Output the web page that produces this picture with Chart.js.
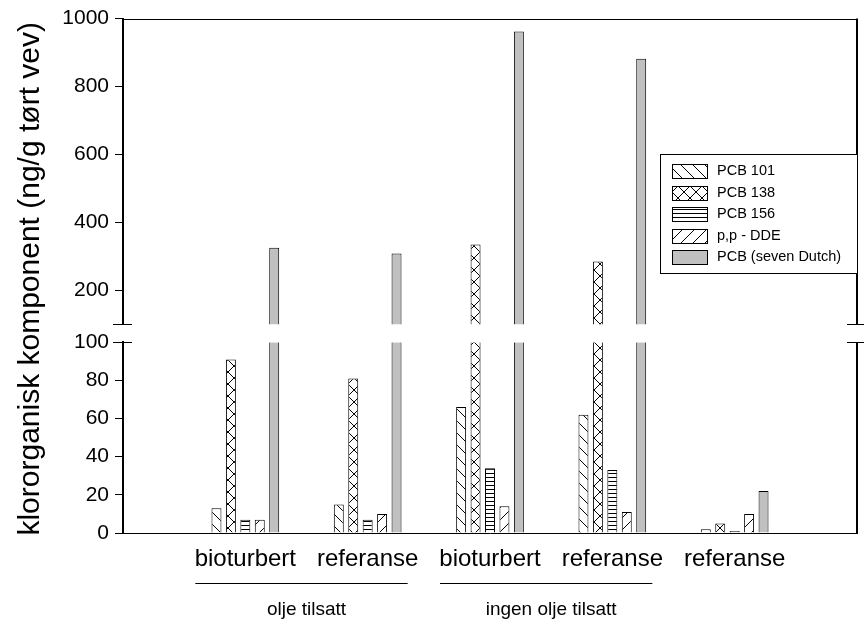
<!DOCTYPE html>
<html>
<head>
<meta charset="utf-8">
<script src="https://cdn.jsdelivr.net/npm/chart.js@4.4.1/dist/chart.umd.min.js"></script>
<style>
  html, body { margin: 0; padding: 0; background: #fff; }
  #wrap { width: 864px; height: 620px; }
</style>
</head>
<body>
<div id="wrap"><canvas id="chart" width="864" height="620"></canvas></div>
<script>
// Data (ng/g dry weight)
const categories = ['', 'bioturbert', 'referanse', 'bioturbert', 'referanse', 'referanse', ''];
const seriesNames = ['PCB 101', 'PCB 138', 'PCB 156', 'p,p - DDE', 'PCB (seven Dutch)'];
const pcb101 = [null, 13, 15, 66, 62, 2, null];
const pcb138 = [null, 91, 81, 335, 285, 5, null];
const pcb156 = [null, 7, 7, 34, 33, 1, null];
const ppDDE = [null, 7, 10, 14, 11, 10, null];
const pcbSevenDutch = [null, 325, 308, 962, 882, 22, null];
const upperTicks = [200, 400, 600, 800, 1000];
const groupLabels = ['olje tilsatt', 'ingen olje tilsatt'];
const groupFirst = [1, 3];
const groupLast = [2, 4];

const LOWER_MAX = 100;   // broken axis: 0-100 below, 100-1000 above
const UPPER_MAX = 1000;
const AXIS_GAP = 18;

const canvas = document.getElementById('chart');
const mainCtx = canvas.getContext('2d');

// Hatch fills like the original figure
function makeHatch(kind) {
  const s = kind === 'horiz' ? 4 : 12;
  const c = document.createElement('canvas');
  c.width = s; c.height = s;
  const g = c.getContext('2d');
  g.fillStyle = '#fff';
  g.fillRect(0, 0, s, s);
  g.strokeStyle = '#000';
  g.lineWidth = 1;
  g.beginPath();
  if (kind === 'back' || kind === 'cross') {
    for (let k = -1; k <= 1; k++) { g.moveTo(k * s, 0); g.lineTo(k * s + s, s); }
  }
  if (kind === 'fwd' || kind === 'cross') {
    for (let k = -1; k <= 1; k++) { g.moveTo(k * s, s); g.lineTo(k * s + s, 0); }
  }
  if (kind === 'horiz') { g.moveTo(0, 1.5); g.lineTo(s, 1.5); }
  g.stroke();
  return mainCtx.createPattern(c, 'repeat');
}

const fills = [makeHatch('back'), makeHatch('cross'), makeHatch('horiz'), makeHatch('fwd'), '#c0c0c0'];
const seriesValues = [pcb101, pcb138, pcb156, ppDDE, pcbSevenDutch];

const datasets = [];
seriesValues.forEach((vals, i) => {
  datasets.push({
    label: seriesNames[i],
    yAxisID: 'yLower',
    stack: 's' + i,
    data: vals.map(v => v == null ? null : Math.min(v, LOWER_MAX)),
    backgroundColor: fills[i],
    borderColor: '#000',
    borderWidth: ctx => vals[ctx.dataIndex] > LOWER_MAX
      ? { left: 1, right: 1, top: 0, bottom: 0 }
      : { left: 1, right: 1, top: 1, bottom: 0 }
  });
});
seriesValues.forEach((vals, i) => {
  datasets.push({
    label: seriesNames[i] + ' (upper)',
    yAxisID: 'yUpper',
    stack: 's' + i,
    data: vals.map(v => v != null && v > LOWER_MAX ? v : null),
    backgroundColor: fills[i],
    borderColor: '#000',
    borderWidth: 1
  });
});

// Gap between the two y panels, frame, break marks, group labels, title, legend
const decorPlugin = {
  id: 'decor',
  afterLayout(chart) {
    const up = chart.scales.yUpper, lo = chart.scales.yLower;
    if (lo.top >= up.top) {
      lo.top += AXIS_GAP;
      lo.height = lo.bottom - lo.top;
      lo.configure();
    }
  },
  afterDraw(chart) {
    const { ctx, chartArea: a, scales } = chart;
    const x = scales.x, up = scales.yUpper, lo = scales.yLower;
    const seg = (x1, y1, x2, y2) => { ctx.beginPath(); ctx.moveTo(x1, y1); ctx.lineTo(x2, y2); ctx.stroke(); };
    ctx.save();
    ctx.strokeStyle = '#000';
    ctx.fillStyle = '#000';

    // top frame line
    ctx.lineWidth = 1;
    seg(a.left, Math.round(a.top) + 0.5, a.right, Math.round(a.top) + 0.5);
    // right frame, broken like the left axis
    ctx.lineWidth = 2;
    seg(a.right, up.top, a.right, up.bottom);
    seg(a.right, lo.top, a.right, lo.bottom);
    // break marks on both sides
    ctx.lineWidth = 1;
    [Math.round(up.bottom) + 0.5, Math.round(lo.top) + 0.5].forEach(y => {
      seg(a.left - 10, y, a.left + 9, y);
      seg(a.right - 10, y, a.right + 9, y);
    });

    // group underlines and labels
    ctx.font = '19px "Liberation Sans", Arial, sans-serif';
    ctx.textAlign = 'center';
    ctx.textBaseline = 'middle';
    groupLabels.forEach((lab, i) => {
      const p1 = x.getPixelForTick(groupFirst[i]);
      const p2 = x.getPixelForTick(groupLast[i]);
      const ly = Math.round(a.bottom + 50) + 0.5;
      seg(p1 - 50, ly, p2 + 40, ly);
      ctx.fillText(lab, (p1 + p2) / 2, a.bottom + 77);
    });

    // y axis title
    ctx.save();
    ctx.translate(31, (a.top + a.bottom) / 2 + 3);
    ctx.rotate(-Math.PI / 2);
    ctx.font = '30px "Liberation Sans", Arial, sans-serif';
    ctx.fillText('klororganisk komponent (ng/g tørt vev)', 0, 0);
    ctx.restore();

    // legend box
    const lx = 660, ly = 154, lw = a.right - 660, lh = 119;
    ctx.fillStyle = '#fff';
    ctx.fillRect(lx, ly, lw, lh);
    ctx.lineWidth = 1;
    ctx.strokeRect(lx + 0.5, ly + 0.5, lw, lh);
    ctx.font = '14.5px "Liberation Sans", Arial, sans-serif';
    ctx.textAlign = 'left';
    seriesNames.forEach((name, i) => {
      const cy = ly + 17 + i * 21.5;
      ctx.fillStyle = fills[i];
      ctx.fillRect(672, Math.round(cy - 7), 35, 14);
      ctx.strokeRect(672.5, Math.round(cy - 7) + 0.5, 35, 14);
      ctx.fillStyle = '#000';
      ctx.fillText(name, 717, cy);
    });
    ctx.restore();
  }
};

Chart.defaults.font.family = '"Liberation Sans", Arial, sans-serif';
Chart.defaults.color = '#000';

const plainTick = v => String(v);

new Chart(canvas, {
  type: 'bar',
  data: { labels: categories, datasets: datasets },
  options: {
    responsive: false,
    animation: false,
    layout: { padding: { top: 18, right: 7, left: 0, bottom: 0 } },
    plugins: { legend: { display: false }, tooltip: { enabled: false } },
    datasets: { bar: { categoryPercentage: 0.59, barPercentage: 0.69 } },
    scales: {
      x: {
        type: 'category',
        offset: false,
        grid: { display: false },
        border: { color: '#000', width: 1 },
        ticks: { font: { size: 24 }, color: '#000', padding: 4, autoSkip: false, maxRotation: 0 },
        afterFit: s => { s.height = 87; }
      },
      yLower: {
        type: 'linear',
        position: 'left',
        stack: 'y',
        stackWeight: 191 + AXIS_GAP,
        min: 0,
        max: LOWER_MAX,
        stacked: false,
        grid: { drawOnChartArea: false, color: '#000', tickLength: 8 },
        border: { color: '#000', width: 2 },
        ticks: { stepSize: 20, autoSkip: false, font: { size: 21 }, color: '#000', padding: 6, callback: plainTick },
        afterFit: s => { s.width = 123; }
      },
      yUpper: {
        type: 'linear',
        position: 'left',
        stack: 'y',
        stackWeight: 306,
        min: LOWER_MAX,
        max: UPPER_MAX,
        stacked: false,
        afterBuildTicks: s => { s.ticks = upperTicks.map(v => ({ value: v })); },
        grid: { drawOnChartArea: false, color: '#000', tickLength: 8 },
        border: { color: '#000', width: 2 },
        ticks: { autoSkip: false, font: { size: 21 }, color: '#000', padding: 6, callback: plainTick },
        afterFit: s => { s.width = 123; }
      }
    }
  },
  plugins: [decorPlugin]
});
</script>
</body>
</html>
